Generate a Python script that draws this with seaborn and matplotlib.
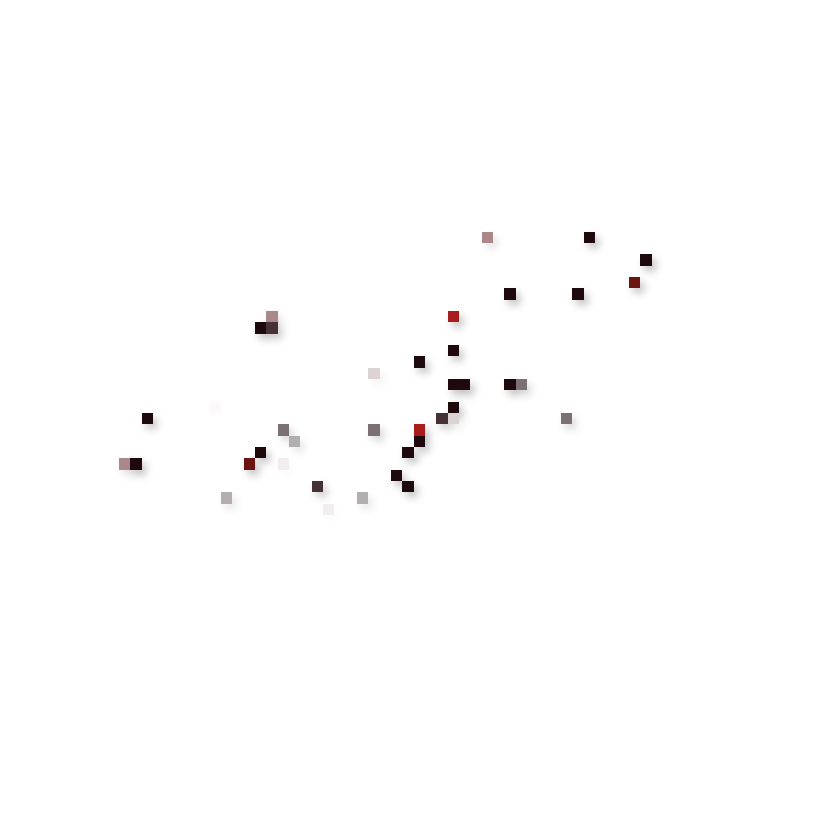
import numpy as np
import pandas as pd
import seaborn as sns
import matplotlib
matplotlib.use("Agg")
import matplotlib.pyplot as plt
from matplotlib.colors import ListedColormap

# celulas preenchidas: coluna, linha (de cima para baixo) e nivel de cor
colunas = [32, 41, 46, 45, 34, 40, 29, 13, 12, 13, 29, 26, 22, 29, 30, 34, 35,
           2, 29, 28, 29, 39, 14, 22, 26, 15, 26, 12, 25, 0, 1, 11, 14, 24,
           17, 25, 9, 21, 18, 8]
linhas = [0, 0, 2, 4, 5, 5, 7, 7, 8, 8, 10, 11, 12, 13, 13, 13, 13,
          16, 15, 16, 16, 16, 17, 17, 17, 18, 18, 19, 19, 20, 20, 20, 20, 21,
          22, 22, 23, 23, 24, 15]
niveis = [4, 7, 7, 8, 7, 7, 9, 4, 7, 6, 7, 7, 2, 7, 7, 7, 5,
          7, 7, 6, 2, 5, 5, 5, 9, 3, 7, 7, 7, 4, 7, 8, 1, 7,
          6, 7, 3, 3, 1, 0]

n_linhas = 25
n_colunas = 47

# paleta discreta
cores = ['#fbf9f9', '#f3eeee', '#dcd3d4', '#b3afb0', '#ab8789',
         '#7b7073', '#463234', '#1e0a0c', '#6c1510', '#a81c1c']
# opacidade da sombra de cada nivel (celulas claras quase sem sombra)
opac_sombra = [0.03, 0.08, 0.2, 0.4, 0.5, 0.65, 0.85, 1.0, 1.0, 1.0]

df = pd.DataFrame({'col': colunas, 'lin': linhas, 'nivel': niveis})
matriz = df.pivot(index='lin', columns='col', values='nivel')
matriz = matriz.reindex(index=range(n_linhas), columns=range(n_colunas))


def blur(a, sigma):
    r = int(3 * sigma)
    k = np.exp(-0.5 * (np.arange(-r, r + 1) / sigma) ** 2)
    k /= k.sum()
    out = np.zeros_like(a)
    for i, w in zip(range(-r, r + 1), k):
        out += w * np.roll(a, i, axis=0)
    a = out
    out = np.zeros_like(a)
    for i, w in zip(range(-r, r + 1), k):
        out += w * np.roll(a, i, axis=1)
    return out


def sombra(im, dpi):
    # sombra desfocada deslocada para baixo/direita
    pad = 24
    src = np.pad(im, [(pad, pad), (pad, pad), (0, 0)], "constant")
    a = blur(src[:, :, 3], 4.0)
    a = np.roll(np.roll(a, 4, axis=1), 5, axis=0)
    out = np.zeros_like(src)
    out[:, :, :3] = 0.2
    out[:, :, 3] = np.clip(a * 0.3, 0, 1)
    return out, -pad, -pad


fig = plt.figure(figsize=(8.34, 8.34), dpi=100)
cel = 11.33
esq = 119 / 834
topo = 231.7
ax = fig.add_axes([esq, 1 - (topo + n_linhas * cel) / 834,
                   n_colunas * cel / 834, n_linhas * cel / 834])

# camada da sombra
cmap_sombra = ListedColormap([(0, 0, 0, o) for o in opac_sombra])
sns.heatmap(matriz, ax=ax, cmap=cmap_sombra, vmin=-0.5,
            vmax=len(cores) - 0.5, cbar=False,
            xticklabels=False, yticklabels=False)
ax.collections[0].set_agg_filter(sombra)
ax.collections[0].set_rasterized(True)

# celulas
sns.heatmap(matriz, ax=ax, cmap=ListedColormap(cores), vmin=-0.5,
            vmax=len(cores) - 0.5, cbar=False,
            xticklabels=False, yticklabels=False)
ax.axis('off')

plt.savefig('out.png', dpi=100)
